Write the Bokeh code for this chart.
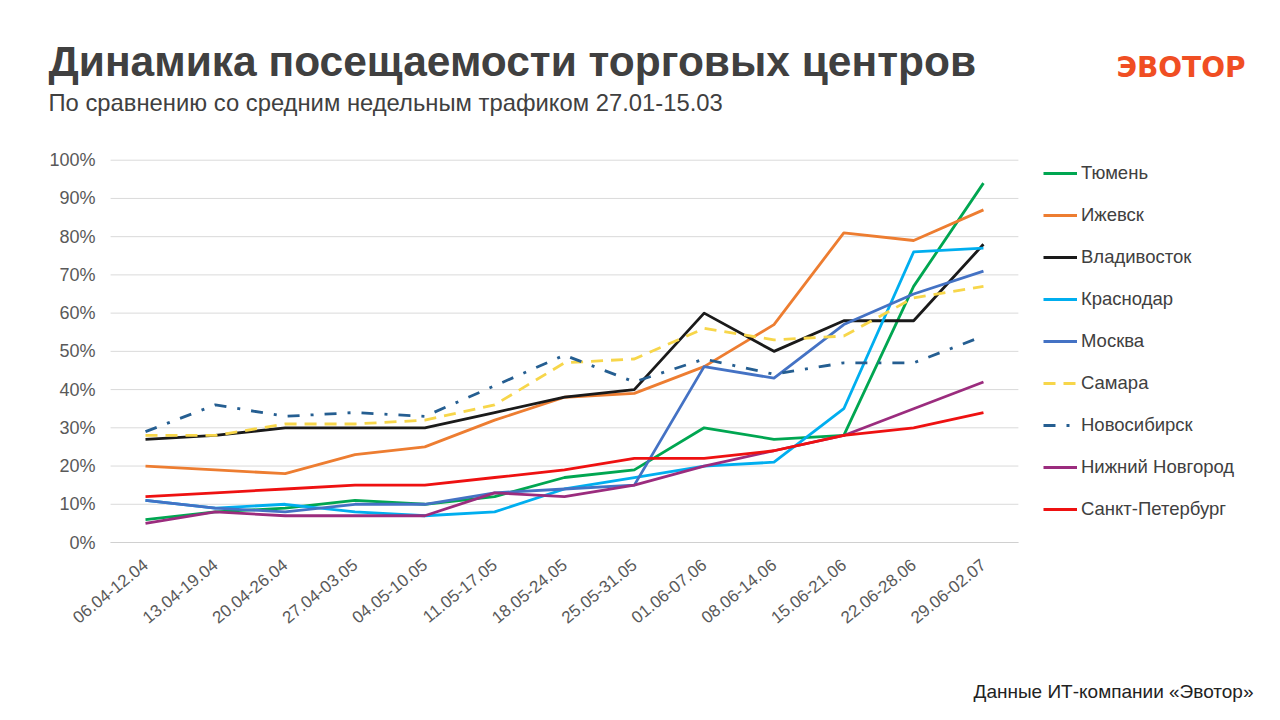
from bokeh.plotting import figure
from bokeh.models import Legend, LegendItem, FixedTicker, Range1d, Title, Label
from bokeh.embed import file_html
from bokeh.resources import INLINE

weeks = ["06.04-12.04", "13.04-19.04", "20.04-26.04", "27.04-03.05", "04.05-10.05",
         "11.05-17.05", "18.05-24.05", "25.05-31.05", "01.06-07.06", "08.06-14.06",
         "15.06-21.06", "22.06-28.06", "29.06-02.07"]

tyumen = [6, 8, 9, 11, 10, 12, 17, 19, 30, 27, 28, 67, 94]
izhevsk = [20, 19, 18, 23, 25, 32, 38, 39, 46, 57, 81, 79, 87]
vladivostok = [27, 28, 30, 30, 30, 34, 38, 40, 60, 50, 58, 58, 78]
krasnodar = [11, 9, 10, 8, 7, 8, 14, 17, 20, 21, 35, 76, 77]
moskva = [11, 9, 8, 10, 10, 13, 14, 15, 46, 43, 57, 65, 71]
samara = [28, 28, 31, 31, 32, 36, 47, 48, 56, 53, 54, 64, 67]
novosibirsk = [29, 36, 33, 34, 33, 41, 49, 42, 48, 44, 47, 47, 54]
n_novgorod = [5, 8, 7, 7, 7, 13, 12, 15, 20, 24, 28, 35, 42]
spb = [12, 13, 14, 15, 15, 17, 19, 22, 22, 24, 28, 30, 34]

y_ticks = [0, 10, 20, 30, 40, 50, 60, 70, 80, 90, 100]
y_tick_labels = ["0%", "10%", "20%", "30%", "40%", "50%", "60%", "70%", "80%", "90%", "100%"]

title_text = "Динамика посещаемости торговых центров"
subtitle_text = "По сравнению со средним недельным трафиком 27.01-15.03"
logo_text = "ЭВОТОР"
source_text = "Данные ИТ-компании «Эвотор»"

series = [
    ("Тюмень", tyumen, "#00A651", None),
    ("Ижевск", izhevsk, "#ED7D31", None),
    ("Владивосток", vladivostok, "#1A1A1A", None),
    ("Краснодар", krasnodar, "#00AEEF", None),
    ("Москва", moskva, "#4472C4", None),
    ("Самара", samara, "#F7D64A", "12 8"),
    ("Новосибирск", novosibirsk, "#255E91", "12 11 3 11"),
    ("Нижний Новгород", n_novgorod, "#9B2C7E", None),
    ("Санкт-Петербург", spb, "#EE1111", None),
]

FONT = "Liberation Sans"
NBSP = "\u00A0"

# ---- layout constants (pixels) ----
FL, FB = 40, 543            # frame left / bottom on the page
X0_PX, STEP_PX = 145, 69.83  # centre of first week, spacing between weeks
Y0_PX, Y100_PX = 543, 160    # pixel rows of 0% and 100%
px_per_pct = (Y0_PX - Y100_PX) / 100.0

x_idx = list(range(len(weeks)))
x_start = -(X0_PX - FL) / STEP_PX
x_end = (1280 - X0_PX) / STEP_PX
y_end = FB / px_per_pct

p = figure(width=1280, height=720, x_range=Range1d(x_start, x_end),
           y_range=Range1d(0, y_end),
           output_backend="svg", toolbar_location=None, title=None,
           min_border_left=FL, min_border_right=0,
           min_border_top=0, min_border_bottom=0)
p.background_fill_color = "white"
p.border_fill_color = "white"
p.outline_line_color = None
p.xgrid.visible = False
p.ygrid.visible = False

# horizontal gridlines limited to the week span
lo, hi = x_idx[0] - 0.5, x_idx[-1] + 0.5
p.segment(x0=[lo] * len(y_ticks), x1=[hi] * len(y_ticks), y0=y_ticks, y1=y_ticks,
          line_color="#DADADA", line_width=1)

items = []
for name, vals, color, dash in series:
    kw = dict(line_color=color, line_width=2.8, line_join="round", line_cap="butt")
    if dash:
        kw["line_dash"] = dash
    r = p.line(x_idx, vals, **kw)
    items.append(LegendItem(label=name, renderers=[r]))

# y axis: labels drawn inside the page margin
p.yaxis.ticker = FixedTicker(ticks=y_ticks)
p.yaxis.major_label_overrides = {t: l for t, l in zip(y_ticks, y_tick_labels)}
p.yaxis.axis_line_color = None
p.yaxis.major_tick_line_color = None
p.yaxis.minor_tick_line_color = None
p.yaxis.major_tick_out = 0
p.yaxis.major_tick_in = 0
p.yaxis.minor_tick_out = 0
p.yaxis.major_label_text_font = FONT
p.yaxis.major_label_text_font_size = "18px"
p.yaxis.major_label_text_color = "#595959"
p.yaxis.major_label_standoff = FL - 95

# x axis with week labels
p.xaxis.ticker = FixedTicker(ticks=x_idx)
p.xaxis.major_label_overrides = {i: w for i, w in zip(x_idx, weeks)}
p.xaxis.bounds = (lo, hi)
p.xaxis.axis_line_color = "#D0D0D0"
p.xaxis.major_tick_line_color = None
p.xaxis.minor_tick_line_color = None
p.xaxis.major_tick_out = 0
p.xaxis.major_tick_in = 0
p.xaxis.minor_tick_out = 0
p.xaxis.major_label_orientation = 0.68
p.xaxis.major_label_text_font = FONT
p.xaxis.major_label_text_font_size = "17px"
p.xaxis.major_label_text_color = "#595959"
p.xaxis.major_label_standoff = 20

legend = Legend(items=items, location=(1043 - FL, 22), orientation="vertical",
                padding=0, margin=0, border_line_color=None, background_fill_alpha=0,
                glyph_width=34, glyph_height=20, label_height=20, label_standoff=4,
                spacing=20, label_text_font=FONT, label_text_font_size="18.5px",
                label_text_color="#404040")
p.add_layout(legend, "center")

# header texts (screen units relative to frame bottom-left)
p.add_layout(Label(x=48 - FL, y=FB - 77.7 + 15.5, x_units="screen", y_units="screen",
                   text=title_text, text_font=FONT, text_font_size="42.5px",
                   text_font_style="bold", text_color="#404040",
                   text_baseline="alphabetic"))
p.add_layout(Label(x=48 - FL, y=FB - 111 + 8, x_units="screen", y_units="screen",
                   text=subtitle_text, text_font=FONT, text_font_size="23.8px",
                   text_color="#404040", text_baseline="alphabetic"))
p.add_layout(Label(x=1245 - FL, y=FB - 77.3 + 9.5, x_units="screen", y_units="screen",
                   text=logo_text, text_font="DejaVu Sans", text_font_size="28px",
                   text_font_style="bold", text_color="#F04E23",
                   text_align="right", text_baseline="alphabetic"))


def spacer(h):
    return Title(text=NBSP, text_font_size="1px", standoff=max(h - 3.1, 0))


# below stack: x axis first, then spacer and the source note
p.add_layout(spacer(29.5), "below")
p.add_layout(Title(text=source_text, align="right", offset=1280 - 1253, standoff=36.4,
                   text_font=FONT, text_font_size="19px", text_font_style="normal",
                   text_color="#222222"), "below")

open("out.html", "w").write(file_html(p, INLINE))
